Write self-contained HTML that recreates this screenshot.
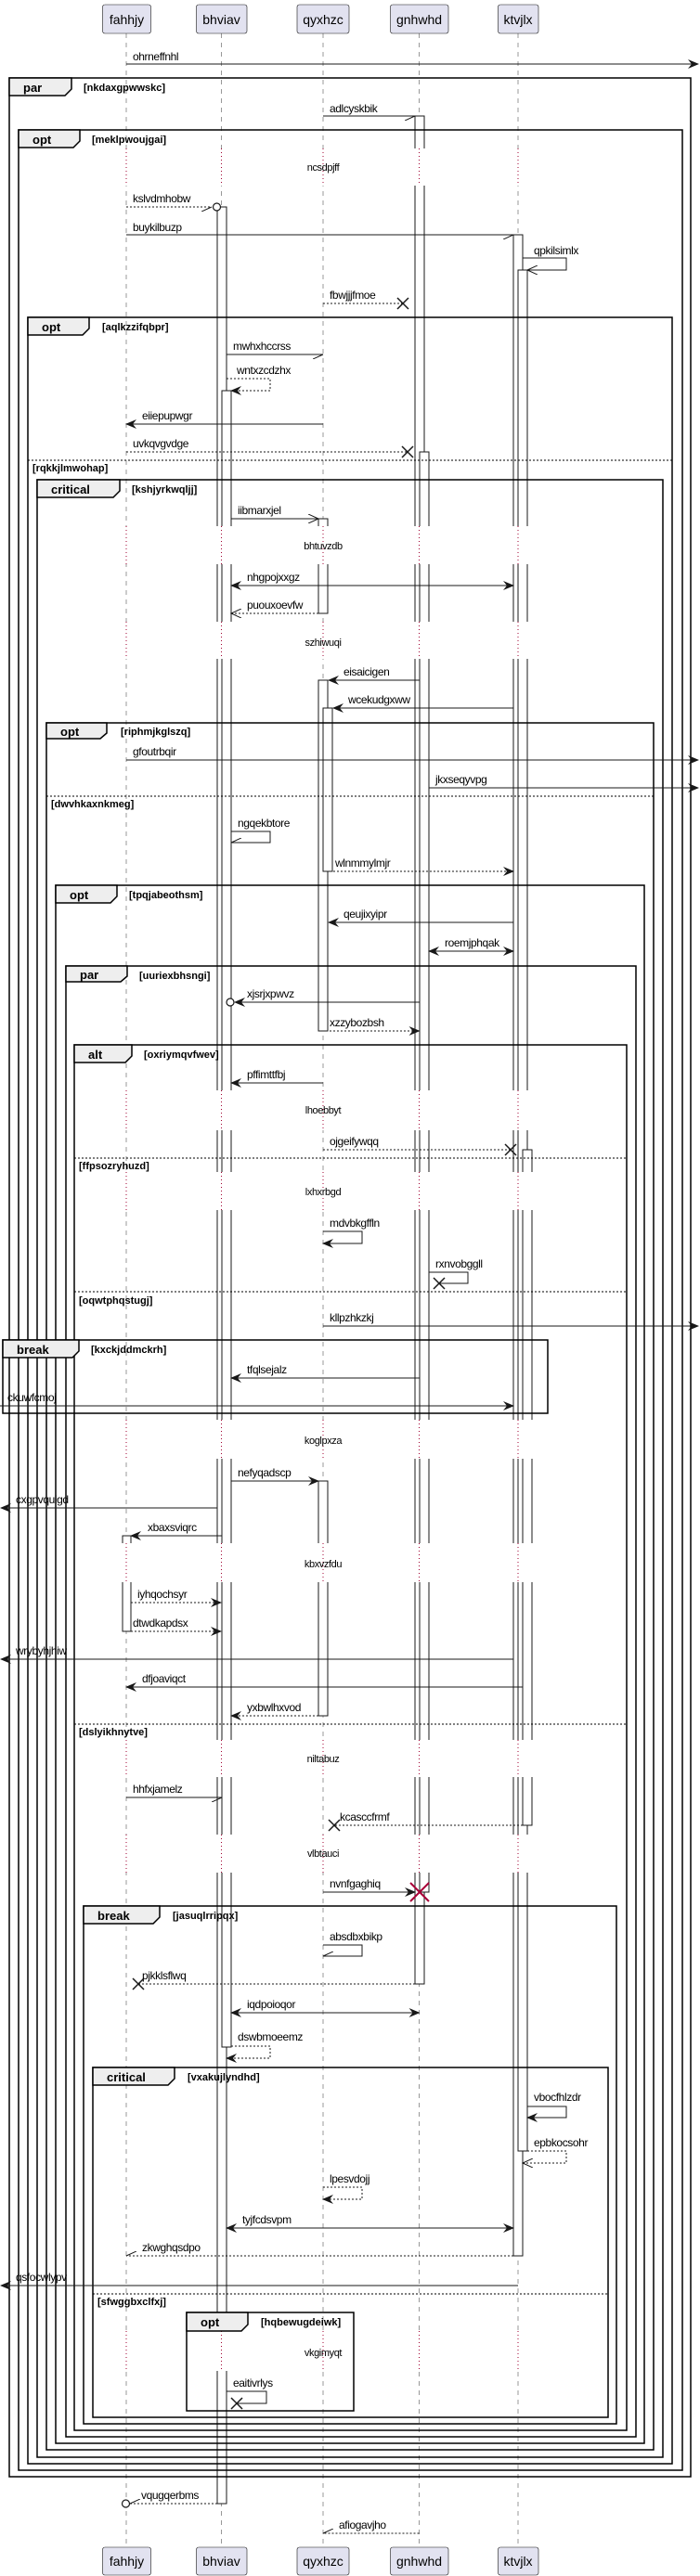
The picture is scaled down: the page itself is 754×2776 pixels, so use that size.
<!DOCTYPE html>
<html><head><meta charset="utf-8">
<style>
html,body{margin:0;padding:0;background:#fff;}
svg{display:block;font-family:"Liberation Sans",sans-serif;}
.m{font-size:12px;letter-spacing:-0.4px;fill:#000;}
.d{font-size:11px;fill:#000;text-anchor:middle;letter-spacing:-0.4px;}
.t{font-size:13px;font-weight:bold;fill:#000;}
.c{font-size:11px;font-weight:bold;fill:#000;}
.p{font-size:14px;fill:#000;text-anchor:middle;}
.fr{fill:none;stroke:#000;stroke-width:1.5;}
.tab{fill:#EEEEEE;stroke:#000;stroke-width:1.5;}
.dv{stroke:#000;stroke-width:1;stroke-dasharray:2,2;}
.ln{stroke:#181818;stroke-width:1;fill:none;}
.ds{stroke:#181818;stroke-width:1;fill:none;stroke-dasharray:2,2;}
.ll{stroke:#555;stroke-width:0.6;stroke-dasharray:5,5;}
.ac{fill:#fff;stroke:#181818;stroke-width:1;}
.x{stroke:#181818;stroke-width:1.5;}
.dl{stroke:#a00030;stroke-width:1;stroke-dasharray:1,3;}
</style></head><body>
<svg width="754" height="2776" viewBox="0 0 754 2776" xmlns="http://www.w3.org/2000/svg">
<defs>
<marker id="f" viewBox="0 0 12 10" refX="11" refY="5" markerWidth="12" markerHeight="10" markerUnits="userSpaceOnUse" orient="auto-start-reverse"><path d="M0,0 L12,5 L0,10 L4,5 Z" fill="#181818"/></marker>
<marker id="o" viewBox="0 0 12 10" refX="11" refY="5" markerWidth="12" markerHeight="10" markerUnits="userSpaceOnUse" orient="auto-start-reverse"><path d="M0,0 L11,5 L0,10" fill="none" stroke="#181818"/></marker>
<marker id="h" viewBox="0 0 12 10" refX="11" refY="5" markerWidth="12" markerHeight="10" markerUnits="userSpaceOnUse" orient="auto"><path d="M0,10 L11,5" fill="none" stroke="#181818"/></marker>
</defs>

<!-- lifelines -->
<line class="ll" x1="136" y1="36" x2="136" y2="2745"/>
<line class="ll" x1="238.5" y1="36" x2="238.5" y2="2745"/>
<line class="ll" x1="348" y1="36" x2="348" y2="2745"/>
<line class="ll" x1="451.5" y1="36" x2="451.5" y2="2745"/>
<line class="ll" x1="558" y1="36" x2="558" y2="2745"/>

<!-- activations -->
<rect class="ac" x="234" y="223" width="10" height="2475"/>
<rect class="ac" x="239" y="421" width="10" height="1785"/>
<rect class="ac" x="447" y="125" width="10" height="2013"/>
<rect class="ac" x="452" y="487" width="10" height="1552"/>
<rect class="ac" x="553" y="253" width="10" height="2178"/>
<rect class="ac" x="558" y="291" width="10" height="2027"/>
<rect class="ac" x="563" y="1239" width="10" height="728"/>
<rect class="ac" x="343" y="559" width="10" height="102"/>
<rect class="ac" x="343" y="733" width="10" height="378"/>
<rect class="ac" x="348" y="763" width="10" height="176"/>
<rect class="ac" x="343" y="1596" width="10" height="253"/>
<rect class="ac" x="132" y="1655" width="9" height="103"/>

<!-- delay gaps -->
<g fill="#fff">
<rect x="128" y="160" width="18" height="40"/><rect x="229" y="160" width="38" height="40"/><rect x="338" y="160" width="26" height="40"/><rect x="443" y="160" width="24" height="40"/><rect x="549" y="160" width="28" height="40"/>
<rect x="128" y="567" width="18" height="41"/><rect x="229" y="567" width="38" height="41"/><rect x="338" y="567" width="26" height="41"/><rect x="443" y="567" width="24" height="41"/><rect x="549" y="567" width="28" height="41"/>
<rect x="128" y="670" width="18" height="40"/><rect x="229" y="670" width="38" height="40"/><rect x="338" y="670" width="26" height="40"/><rect x="443" y="670" width="24" height="40"/><rect x="549" y="670" width="28" height="40"/>
<rect x="128" y="1175" width="18" height="43"/><rect x="229" y="1175" width="38" height="43"/><rect x="338" y="1175" width="26" height="43"/><rect x="443" y="1175" width="24" height="43"/><rect x="549" y="1175" width="28" height="43"/>
<rect x="128" y="1263" width="18" height="41"/><rect x="229" y="1263" width="38" height="41"/><rect x="338" y="1263" width="26" height="41"/><rect x="443" y="1263" width="24" height="41"/><rect x="549" y="1263" width="28" height="41"/>
<rect x="128" y="1530" width="18" height="42"/><rect x="229" y="1530" width="38" height="42"/><rect x="338" y="1530" width="26" height="42"/><rect x="443" y="1530" width="24" height="42"/><rect x="549" y="1530" width="28" height="42"/>
<rect x="128" y="1663" width="18" height="42"/><rect x="229" y="1663" width="38" height="42"/><rect x="338" y="1663" width="26" height="42"/><rect x="443" y="1663" width="24" height="42"/><rect x="549" y="1663" width="28" height="42"/>
<rect x="128" y="1875" width="18" height="40"/><rect x="229" y="1875" width="38" height="40"/><rect x="338" y="1875" width="26" height="40"/><rect x="443" y="1875" width="24" height="40"/><rect x="549" y="1875" width="28" height="40"/>
<rect x="128" y="1977" width="18" height="41"/><rect x="229" y="1977" width="38" height="41"/><rect x="338" y="1977" width="26" height="41"/><rect x="443" y="1977" width="24" height="41"/><rect x="549" y="1977" width="28" height="41"/>
<rect x="128" y="2512" width="18" height="43"/><rect x="229" y="2512" width="38" height="43"/><rect x="338" y="2512" width="26" height="43"/><rect x="443" y="2512" width="24" height="43"/><rect x="549" y="2512" width="28" height="43"/>
</g>
<g>
<path class="dl" d="M136,160V200M238.5,160V200M348,160V200M451.5,160V200M558,160V200"/>
<path class="dl" d="M136,567V608M238.5,567V608M348,567V608M451.5,567V608M558,567V608"/>
<path class="dl" d="M136,670V710M238.5,670V710M348,670V710M451.5,670V710M558,670V710"/>
<path class="dl" d="M136,1175V1218M238.5,1175V1218M348,1175V1218M451.5,1175V1218M558,1175V1218"/>
<path class="dl" d="M136,1263V1304M238.5,1263V1304M348,1263V1304M451.5,1263V1304M558,1263V1304"/>
<path class="dl" d="M136,1530V1572M238.5,1530V1572M348,1530V1572M451.5,1530V1572M558,1530V1572"/>
<path class="dl" d="M136,1663V1705M238.5,1663V1705M348,1663V1705M451.5,1663V1705M558,1663V1705"/>
<path class="dl" d="M136,1875V1915M238.5,1875V1915M348,1875V1915M451.5,1875V1915M558,1875V1915"/>
<path class="dl" d="M136,1977V2018M238.5,1977V2018M348,1977V2018M451.5,1977V2018M558,1977V2018"/>
<path class="dl" d="M136,2512V2555M238.5,2512V2555M348,2512V2555M451.5,2512V2555M558,2512V2555"/>
</g>
<text class="d" x="348" y="184">ncsdpjff</text>
<text class="d" x="348" y="592">bhtuvzdb</text>
<text class="d" x="348" y="696">szhiwuqi</text>
<text class="d" x="348" y="1200">lhoebbyt</text>
<text class="d" x="348" y="1288">lxhxrbgd</text>
<text class="d" x="348" y="1556">koglpxza</text>
<text class="d" x="348" y="1689">kbxvzfdu</text>
<text class="d" x="348" y="1899">niltabuz</text>
<text class="d" x="348" y="2001">vlbtauci</text>
<text class="d" x="348" y="2539">vkgimyqt</text>

<!-- frames -->
<g>
<rect class="fr" x="10" y="84" width="734" height="2585"/>
<path class="tab" d="M10,84H77V96L70,103H10Z"/><text class="t" x="25" y="99">par</text><text class="c" x="90" y="98">[nkdaxgpwwskc]</text>

<rect class="fr" x="20" y="140" width="715" height="2522"/>
<path class="tab" d="M20,140H86V152L79,159H20Z"/><text class="t" x="35" y="155">opt</text><text class="c" x="99" y="154">[meklpwoujgai]</text>

<rect class="fr" x="30" y="342" width="694" height="2313"/>
<path class="tab" d="M30,342H96V354L89,361H30Z"/><text class="t" x="45" y="357">opt</text><text class="c" x="110" y="356">[aqlkzzifqbpr]</text>
<line class="dv" x1="30" y1="496" x2="724" y2="496"/><text class="c" x="35" y="508">[rqkkjlmwohap]</text>

<rect class="fr" x="40" y="517" width="674" height="2131"/>
<path class="tab" d="M40,517H129V529L122,536H40Z"/><text class="t" x="55" y="532">critical</text><text class="c" x="142" y="531">[kshjyrkwqljj]</text>

<rect class="fr" x="50" y="779" width="654" height="1861"/>
<path class="tab" d="M50,779H115V790L108,796H50Z"/><text class="t" x="65" y="793">opt</text><text class="c" x="130" y="792">[riphmjkglszq]</text>
<line class="dv" x1="50" y1="858" x2="704" y2="858"/><text class="c" x="55" y="870">[dwvhkaxnkmeg]</text>

<rect class="fr" x="60" y="954" width="634" height="1679"/>
<path class="tab" d="M60,954H126V966L119,973H60Z"/><text class="t" x="75" y="969">opt</text><text class="c" x="139" y="968">[tpqjabeothsm]</text>

<rect class="fr" x="71" y="1041" width="614" height="1585"/>
<path class="tab" d="M71,1041H137V1052L130,1058H71Z"/><text class="t" x="86" y="1055">par</text><text class="c" x="150" y="1055">[uuriexbhsngi]</text>

<rect class="fr" x="80" y="1126" width="595" height="1493"/>
<path class="tab" d="M80,1126H142V1138L135,1145H80Z"/><text class="t" x="95" y="1141">alt</text><text class="c" x="155" y="1140">[oxriymqvfwev]</text>
<line class="dv" x1="80" y1="1248" x2="675" y2="1248"/><text class="c" x="85" y="1260">[ffpsozryhuzd]</text>
<line class="dv" x1="80" y1="1392" x2="675" y2="1392"/><text class="c" x="85" y="1405">[oqwtphqstugj]</text>
<line class="dv" x1="80" y1="1858" x2="675" y2="1858"/><text class="c" x="85" y="1870">[dslyikhnytve]</text>

<rect class="fr" x="3" y="1444" width="587" height="79"/>
<path class="tab" d="M3,1444H85V1456L78,1463H3Z"/><text class="t" x="18" y="1459">break</text><text class="c" x="98" y="1458">[kxckjddmckrh]</text>

<rect class="fr" x="90" y="2054" width="574" height="558"/>
<path class="tab" d="M90,2054H172V2066L165,2073H90Z"/><text class="t" x="105" y="2069">break</text><text class="c" x="186" y="2068">[jasuqlrripqx]</text>

<rect class="fr" x="100" y="2228" width="555" height="377"/>
<path class="tab" d="M100,2228H188V2240L181,2247H100Z"/><text class="t" x="115" y="2243">critical</text><text class="c" x="202" y="2242">[vxakujlyndhd]</text>
<line class="dv" x1="100" y1="2472" x2="655" y2="2472"/><text class="c" x="105" y="2484">[sfwggbxclfxj]</text>

<rect class="fr" x="201" y="2492" width="180" height="106"/>
<path class="tab" d="M201,2492H267V2505L260,2512H201Z"/><text class="t" x="216" y="2507">opt</text><text class="c" x="281" y="2506">[hqbewugdeiwk]</text>
</g>

<!-- messages -->
<line class="ln" x1="136" y1="69" x2="752" y2="69" marker-end="url(#f)"/><text class="m" x="143" y="65">ohrneffnhl</text>
<line class="ln" x1="348" y1="125" x2="447" y2="125" marker-end="url(#h)"/><text class="m" x="355" y="121">adlcyskbik</text>
<line class="ds" x1="136" y1="223" x2="228" y2="223" marker-end="url(#h)"/><circle cx="233.5" cy="223" r="4" fill="#fff" stroke="#181818" stroke-width="1.2"/><text class="m" x="143" y="218">kslvdmhobw</text>
<line class="ln" x1="136" y1="253" x2="553" y2="253" marker-end="url(#h)"/><text class="m" x="143" y="249">buykilbuzp</text>
<polyline class="ln" points="563,278 610,278 610,291 568,291" marker-end="url(#o)"/><text class="m" x="575" y="274">qpkilsimlx</text>
<line class="ds" x1="348" y1="327" x2="434" y2="327"/><path class="x" d="M428,321L440,333M440,321L428,333"/><text class="m" x="355" y="322">fbwjjjfmoe</text>

<line class="ln" x1="244" y1="382" x2="348" y2="382" marker-end="url(#h)"/><text class="m" x="251" y="377">mwhxhccrss</text>
<polyline class="ds" points="244,408 291,408 291,421 249,421" marker-end="url(#f)"/><text class="m" x="255" y="403">wntxzcdzhx</text>
<line class="ln" x1="348" y1="457" x2="136" y2="457" marker-end="url(#f)"/><text class="m" x="153" y="452">eiiepupwgr</text>
<line class="ds" x1="136" y1="487" x2="439" y2="487"/><path class="x" d="M433,481L445,493M445,481L433,493"/><text class="m" x="143" y="482">uvkqvgvdge</text>
<line class="ln" x1="249" y1="559" x2="343" y2="559" marker-end="url(#o)"/><text class="m" x="256" y="554">iibmarxjel</text>
<line class="ln" x1="249" y1="631" x2="553" y2="631" marker-start="url(#f)" marker-end="url(#f)"/><text class="m" x="266" y="626">nhgpojxxgz</text>
<line class="ds" x1="343" y1="661" x2="249" y2="661" marker-end="url(#o)"/><text class="m" x="266" y="656">puouxoevfw</text>

<line class="ln" x1="451.5" y1="733" x2="354" y2="733" marker-end="url(#f)"/><text class="m" x="370" y="728">eisaicigen</text>
<line class="ln" x1="553" y1="763" x2="359" y2="763" marker-end="url(#f)"/><text class="m" x="375" y="758">wcekudgxww</text>
<line class="ln" x1="136" y1="819" x2="752" y2="819" marker-end="url(#f)"/><text class="m" x="143" y="814">gfoutrbqir</text>
<line class="ln" x1="462" y1="849" x2="752" y2="849" marker-end="url(#f)"/><text class="m" x="469" y="844">jkxseqyvpg</text>
<polyline class="ln" points="249,896 291,896 291,908 249,908" marker-end="url(#h)"/><text class="m" x="256" y="891">ngqekbtore</text>
<line class="ds" x1="359" y1="939" x2="553" y2="939" marker-end="url(#f)"/><text class="m" x="361" y="934">wlnmmylmjr</text>
<line class="ln" x1="553" y1="994" x2="354" y2="994" marker-end="url(#f)"/><text class="m" x="370" y="989">qeujixyipr</text>
<line class="ln" x1="462" y1="1025" x2="553" y2="1025" marker-start="url(#f)" marker-end="url(#f)"/><text class="m" x="479" y="1020">roemjphqak</text>
<line class="ln" x1="451.5" y1="1080" x2="253" y2="1080" marker-end="url(#f)"/><circle cx="248" cy="1080" r="4" fill="#fff" stroke="#181818" stroke-width="1.2"/><text class="m" x="266" y="1075">xjsrjxpwvz</text>
<line class="ds" x1="343" y1="1111" x2="451.5" y2="1111" marker-end="url(#f)"/><text class="m" x="355" y="1106">xzzybozbsh</text>
<line class="ln" x1="348" y1="1167" x2="249" y2="1167" marker-end="url(#f)"/><text class="m" x="266" y="1162">pffimttfbj</text>

<line class="ds" x1="348" y1="1239" x2="550" y2="1239"/><path class="x" d="M544,1233L556,1245M556,1233L544,1245"/><text class="m" x="355" y="1234">ojgeifywqq</text>
<polyline class="ln" points="348,1327 390,1327 390,1340 348,1340" marker-end="url(#f)"/><text class="m" x="355" y="1322">mdvbkgffln</text>
<polyline class="ln" points="462,1371 504,1371 504,1383 473,1383"/><path class="x" d="M467,1377L479,1389M479,1377L467,1389"/><text class="m" x="469" y="1366">rxnvobggll</text>
<line class="ln" x1="348" y1="1429" x2="752" y2="1429" marker-end="url(#f)"/><text class="m" x="355" y="1424">kllpzhkzkj</text>
<line class="ln" x1="451.5" y1="1485" x2="249" y2="1485" marker-end="url(#f)"/><text class="m" x="266" y="1480">tfqlsejalz</text>
<line class="ln" x1="0" y1="1515" x2="553" y2="1515" marker-end="url(#f)"/><text class="m" x="8" y="1510">ckuwfcmoj</text>
<line class="ln" x1="249" y1="1596" x2="343" y2="1596" marker-end="url(#f)"/><text class="m" x="256" y="1591">nefyqadscp</text>
<line class="ln" x1="234" y1="1625" x2="1" y2="1625" marker-end="url(#f)"/><text class="m" x="17" y="1620">cxgpvquigd</text>
<line class="ln" x1="239" y1="1655" x2="141" y2="1655" marker-end="url(#f)"/><text class="m" x="159" y="1650">xbaxsviqrc</text>

<line class="ds" x1="141" y1="1727" x2="238" y2="1727" marker-end="url(#f)"/><text class="m" x="148" y="1722">iyhqochsyr</text>
<line class="ds" x1="141" y1="1758" x2="238" y2="1758" marker-end="url(#f)"/><text class="m" x="143" y="1753">dtwdkapdsx</text>
<line class="ln" x1="553" y1="1788" x2="1" y2="1788" marker-end="url(#f)"/><text class="m" x="17" y="1783">wrybyhjhiw</text>
<line class="ln" x1="563" y1="1818" x2="136" y2="1818" marker-end="url(#f)"/><text class="m" x="153" y="1813">dfjoaviqct</text>
<line class="ds" x1="343" y1="1849" x2="249" y2="1849" marker-end="url(#f)"/><text class="m" x="266" y="1844">yxbwlhxvod</text>
<line class="ln" x1="136" y1="1937" x2="239" y2="1937" marker-end="url(#h)"/><text class="m" x="143" y="1932">hhfxjamelz</text>
<line class="ds" x1="563" y1="1967" x2="360" y2="1967"/><path class="x" d="M354,1961L366,1973M366,1961L354,1973"/><text class="m" x="366" y="1962">kcasccfrmf</text>
<line class="ln" x1="348" y1="2039" x2="447" y2="2039" marker-end="url(#f)"/><text class="m" x="355" y="2034">nvnfgaghiq</text>
<path d="M442,2029L462,2049M462,2029L442,2049" stroke="#A80036" stroke-width="2"/>
<polyline class="ln" points="348,2096 390,2096 390,2108 348,2108" marker-end="url(#h)"/><text class="m" x="355" y="2091">absdbxbikp</text>
<line class="ds" x1="447" y1="2138" x2="149" y2="2138"/><path class="x" d="M143,2132L155,2144M155,2132L143,2144"/><text class="m" x="153" y="2133">pjkklsflwq</text>
<line class="ln" x1="249" y1="2169" x2="451.5" y2="2169" marker-start="url(#f)" marker-end="url(#f)"/><text class="m" x="266" y="2164">iqdpoioqor</text>
<polyline class="ds" points="249,2205 291,2205 291,2218 244,2218" marker-end="url(#f)"/><text class="m" x="256" y="2199">dswbmoeemz</text>
<polyline class="ln" points="568,2270 610,2270 610,2282 568,2282" marker-end="url(#f)"/><text class="m" x="575" y="2264">vbocfhlzdr</text>
<polyline class="ds" points="568,2318 610,2318 610,2331 563,2331" marker-end="url(#o)"/><text class="m" x="575" y="2313">epbkocsohr</text>
<polyline class="ds" points="348,2357 390,2357 390,2370 348,2370" marker-end="url(#f)"/><text class="m" x="355" y="2352">lpesvdojj</text>
<line class="ln" x1="244" y1="2401" x2="553" y2="2401" marker-start="url(#f)" marker-end="url(#f)"/><text class="m" x="261" y="2396">tyjfcdsvpm</text>
<line class="ds" x1="553" y1="2431" x2="136" y2="2431" marker-end="url(#h)"/><text class="m" x="153" y="2426">zkwghqsdpo</text>
<line class="ln" x1="558" y1="2463" x2="1" y2="2463" marker-end="url(#f)"/><text class="m" x="17" y="2458">qsfocwlypv</text>
<polyline class="ln" points="244,2577 287,2577 287,2590 255,2590"/><path class="x" d="M249,2584L261,2596M261,2584L249,2596"/><text class="m" x="251" y="2572">eaitivrlys</text>
<line class="ds" x1="234" y1="2698" x2="140" y2="2698" marker-end="url(#h)"/><circle cx="135.5" cy="2698" r="4" fill="#fff" stroke="#181818" stroke-width="1.2"/><text class="m" x="152" y="2693">vqugqerbms</text>
<line class="ds" x1="451.5" y1="2730" x2="348" y2="2730" marker-end="url(#h)"/><text class="m" x="365" y="2725">afiogavjho</text>

<!-- participants -->
<g fill="#E2E2F0" stroke="#181818" stroke-width="0.6">
<rect x="110.5" y="5" width="52" height="31" rx="2.5"/><rect x="211.5" y="5" width="54.5" height="31" rx="2.5"/><rect x="320" y="5" width="56" height="31" rx="2.5"/><rect x="420.5" y="5" width="62.5" height="31" rx="2.5"/><rect x="536.5" y="5" width="43.5" height="31" rx="2.5"/>
<rect x="110.5" y="2745" width="52" height="30" rx="2.5"/><rect x="211.5" y="2745" width="54.5" height="30" rx="2.5"/><rect x="320" y="2745" width="56" height="30" rx="2.5"/><rect x="420.5" y="2745" width="62.5" height="30" rx="2.5"/><rect x="536.5" y="2745" width="43.5" height="30" rx="2.5"/>
</g>
<text class="p" x="136.5" y="26">fahhjy</text><text class="p" x="238.5" y="26">bhviav</text><text class="p" x="348" y="26">qyxhzc</text><text class="p" x="451.5" y="26">gnhwhd</text><text class="p" x="558" y="26">ktvjlx</text>
<text class="p" x="136.5" y="2765">fahhjy</text><text class="p" x="238.5" y="2765">bhviav</text><text class="p" x="348" y="2765">qyxhzc</text><text class="p" x="451.5" y="2765">gnhwhd</text><text class="p" x="558" y="2765">ktvjlx</text>
</svg>
</body></html>
